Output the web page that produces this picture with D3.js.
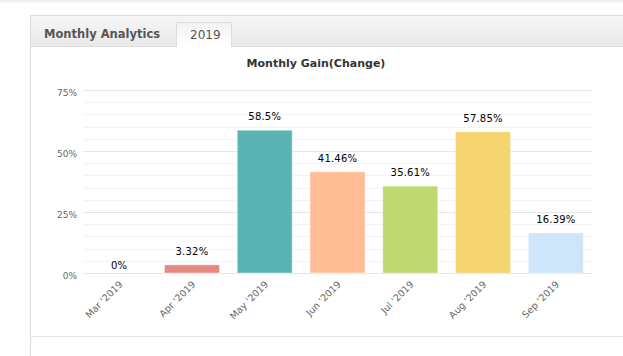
<!DOCTYPE html>
<html>
<head>
<meta charset="utf-8">
<script src="https://cdn.jsdelivr.net/npm/d3@7"></script>
<style>
  html, body { margin: 0; padding: 0; background: #fff; }
  svg { display: block; font-family: "DejaVu Sans", Verdana, sans-serif; }
</style>
</head>
<body>
<svg id="chart" width="623" height="356"></svg>
<script>
const categories = ["Mar '2019", "Apr '2019", "May '2019", "Jun '2019", "Jul '2019", "Aug '2019", "Sep '2019"];
const gains = [0, 3.32, 58.5, 41.46, 35.61, 57.85, 16.39];
const valueLabels = ["0%", "3.32%", "58.5%", "41.46%", "35.61%", "57.85%", "16.39%"];
const barColors = ["#7cb5ec", "#e58884", "#5bb4b4", "#ffbc95", "#bfd870", "#f5d36f", "#cfe5f9"];
const yTicks = [0, 25, 50, 75];
const yMinorTicks = [5, 10, 15, 20, 30, 35, 40, 45, 55, 60, 65, 70];
const tabTitle = "Monthly Analytics";
const tabYear = "2019";
const chartTitle = "Monthly Gain(Change)";

const svg = d3.select("#chart");
const defs = svg.append("defs");

const hg = defs.append("linearGradient").attr("id", "hdr").attr("x1", 0).attr("y1", 0).attr("x2", 0).attr("y2", 1);
hg.append("stop").attr("offset", "0%").attr("stop-color", "#f6f6f6");
hg.append("stop").attr("offset", "100%").attr("stop-color", "#e9e9e9");
const tg = defs.append("linearGradient").attr("id", "tab").attr("x1", 0).attr("y1", 0).attr("x2", 0).attr("y2", 1);
tg.append("stop").attr("offset", "0%").attr("stop-color", "#f3f3f3");
tg.append("stop").attr("offset", "100%").attr("stop-color", "#ffffff");
const sg = defs.append("linearGradient").attr("id", "shd").attr("x1", 0).attr("y1", 0).attr("x2", 0).attr("y2", 1);
sg.append("stop").attr("offset", "0%").attr("stop-color", "#ececec");
sg.append("stop").attr("offset", "100%").attr("stop-color", "#ffffff");

// top shadow strip
svg.append("rect").attr("x", 0).attr("y", 0).attr("width", 623).attr("height", 4).attr("fill", "url(#shd)");

// panel
svg.append("rect").attr("x", 30.5).attr("y", 15.5).attr("width", 600).attr("height", 400)
  .attr("fill", "#fff").attr("stroke", "#dcdcdc");
svg.append("rect").attr("x", 31).attr("y", 16).attr("width", 600).attr("height", 30).attr("fill", "url(#hdr)");
svg.append("line").attr("x1", 31).attr("x2", 623).attr("y1", 46.5).attr("y2", 46.5).attr("stroke", "#dcdcdc");

// tab
svg.append("path").attr("d", "M176.5,47 V22.5 H231.5 V47").attr("fill", "url(#tab)").attr("stroke", "#dcdcdc");
svg.append("rect").attr("x", 177).attr("y", 46).attr("width", 54).attr("height", 2).attr("fill", "#fff");

svg.append("text").attr("x", 44).attr("y", 38).attr("font-size", 11.5).attr("font-weight", "bold")
  .attr("fill", "#555").text(tabTitle);
svg.append("text").attr("x", 190).attr("y", 39).attr("font-size", 12)
  .attr("fill", "#555").text(tabYear);

// bottom line
svg.append("line").attr("x1", 31).attr("x2", 623).attr("y1", 336.5).attr("y2", 336.5).attr("stroke", "#e6e6e6");

// chart
const x = d3.scaleBand().domain(categories).range([83, 592]).paddingInner(0.245).paddingOuter(0.12);
const y = d3.scaleLinear().domain([0, 75]).range([273, 90]);

svg.append("text").attr("x", 316).attr("y", 67).attr("text-anchor", "middle")
  .attr("font-size", 11).attr("font-weight", "bold").attr("fill", "#333").text(chartTitle);

const grid = svg.append("g");
grid.selectAll("line.minor").data(yMinorTicks).join("line").attr("class", "minor")
  .attr("x1", 83).attr("x2", 592)
  .attr("y1", d => Math.round(y(d)) + 0.5).attr("y2", d => Math.round(y(d)) + 0.5)
  .attr("stroke", "#f3f3f3");
grid.selectAll("line.major").data(yTicks).join("line").attr("class", "major")
  .attr("x1", 83).attr("x2", 592)
  .attr("y1", d => Math.round(y(d)) + 0.5).attr("y2", d => Math.round(y(d)) + 0.5)
  .attr("stroke", "#e6e6e6");

const yAxis = d3.axisLeft(y).tickValues(yTicks).tickFormat(d => d + "%").tickSize(0).tickPadding(0);
const ya = svg.append("g").attr("transform", "translate(77,3)").call(yAxis);
ya.select(".domain").remove();
ya.selectAll("text").attr("font-size", 9).attr("fill", "#666").attr("font-family", "DejaVu Sans, sans-serif");

svg.append("g").selectAll("rect").data(gains).join("rect")
  .attr("x", (d, i) => x(categories[i]))
  .attr("width", x.bandwidth())
  .attr("y", d => y(d))
  .attr("height", d => y(0) - y(d))
  .attr("fill", (d, i) => barColors[i])
  .attr("stroke", "rgba(255,255,255,0.4)");

svg.append("g").selectAll("text").data(gains).join("text")
  .attr("x", (d, i) => x(categories[i]) + x.bandwidth() / 2)
  .attr("y", d => y(d) - (d === 0 ? 4 : 10))
  .attr("text-anchor", "middle")
  .attr("font-size", 10)
  .attr("letter-spacing", 0.2)
  .attr("fill", "#000")
  .text((d, i) => valueLabels[i]);

const xAxis = d3.axisBottom(x).tickSize(0).tickPadding(0);
const xa = svg.append("g").attr("transform", "translate(0,273)").call(xAxis);
xa.select(".domain").remove();
xa.selectAll("text")
  .attr("font-size", 9.5).attr("fill", "#666").attr("font-family", "DejaVu Sans, sans-serif")
  .attr("text-anchor", "end")
  .attr("dy", 0)
  .attr("transform", "translate(4,12) rotate(-45)");
</script>
</body>
</html>
